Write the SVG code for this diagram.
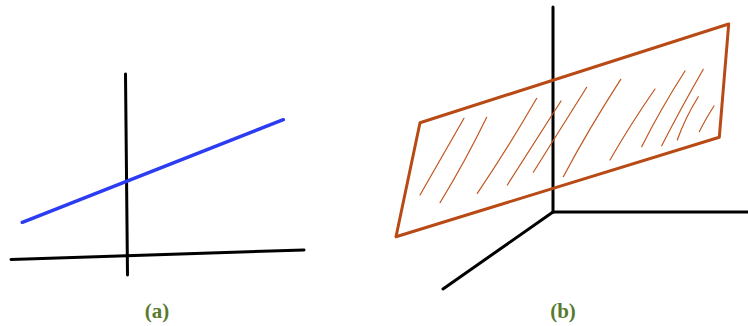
<svg xmlns="http://www.w3.org/2000/svg" width="748" height="326" viewBox="0 0 748 326">
<style>
.ax{stroke:#000;stroke-width:3;stroke-linecap:round;fill:none}
.bl{stroke:#2b3cf2;stroke-width:3.5;stroke-linecap:round;fill:none}
.pl{stroke:#b84a15;stroke-width:3;stroke-linejoin:round;stroke-linecap:round;fill:none}
.ht{stroke:#c0561f;stroke-width:1.2;stroke-linecap:round;fill:none}
.lb{font-family:"Liberation Serif","DejaVu Serif",serif;font-weight:bold;font-size:21px;fill:#587a2e;text-anchor:middle}
</style>
<rect width="748" height="326" fill="#fff"/>
<g id="panel-a">
<line class="ax" x1="125.5" y1="74" x2="127.5" y2="275"/>
<line class="ax" x1="11" y1="259.5" x2="304" y2="250"/>
<line class="bl" x1="22.3" y1="222.3" x2="283.3" y2="119.7"/>
</g>
<g id="panel-b">
<line class="ax" x1="553" y1="7" x2="553" y2="212"/>
<line class="ax" x1="553" y1="212" x2="748" y2="212"/>
<line class="ax" x1="553" y1="212" x2="443" y2="289"/>
<polygon class="pl" points="420,122.7 728.7,24 719.3,137.3 396,236.7"/>
<g id="hatch">
<path class="ht" d="M464,118.3 Q443,155 420,195"/>
<path class="ht" d="M486.7,117.3 Q465,162 440,202.7"/>
<path class="ht" d="M536.7,98.3 Q508,148 477.3,193.3"/>
<path class="ht" d="M561,101 Q533,145 507.3,185"/>
<path class="ht" d="M586.7,87.3 Q558,133 533.3,172.3"/>
<path class="ht" d="M620.7,79.3 Q588,130 563.3,176.7"/>
<path class="ht" d="M655,89 Q630,125 610,160"/>
<path class="ht" d="M685,71 Q660,110 641.7,146.7"/>
<path class="ht" d="M703.3,69.3 Q680,110 661.7,145.7"/>
<path class="ht" d="M698.3,96.7 Q685,118 677.3,140"/>
<path class="ht" d="M714,106 Q705,120 699.3,131.7"/>
</g>
</g>
<g id="labels">
<text class="lb" x="157" y="318">(a)</text>
<text class="lb" x="563" y="318">(b)</text>
</g>
</svg>
